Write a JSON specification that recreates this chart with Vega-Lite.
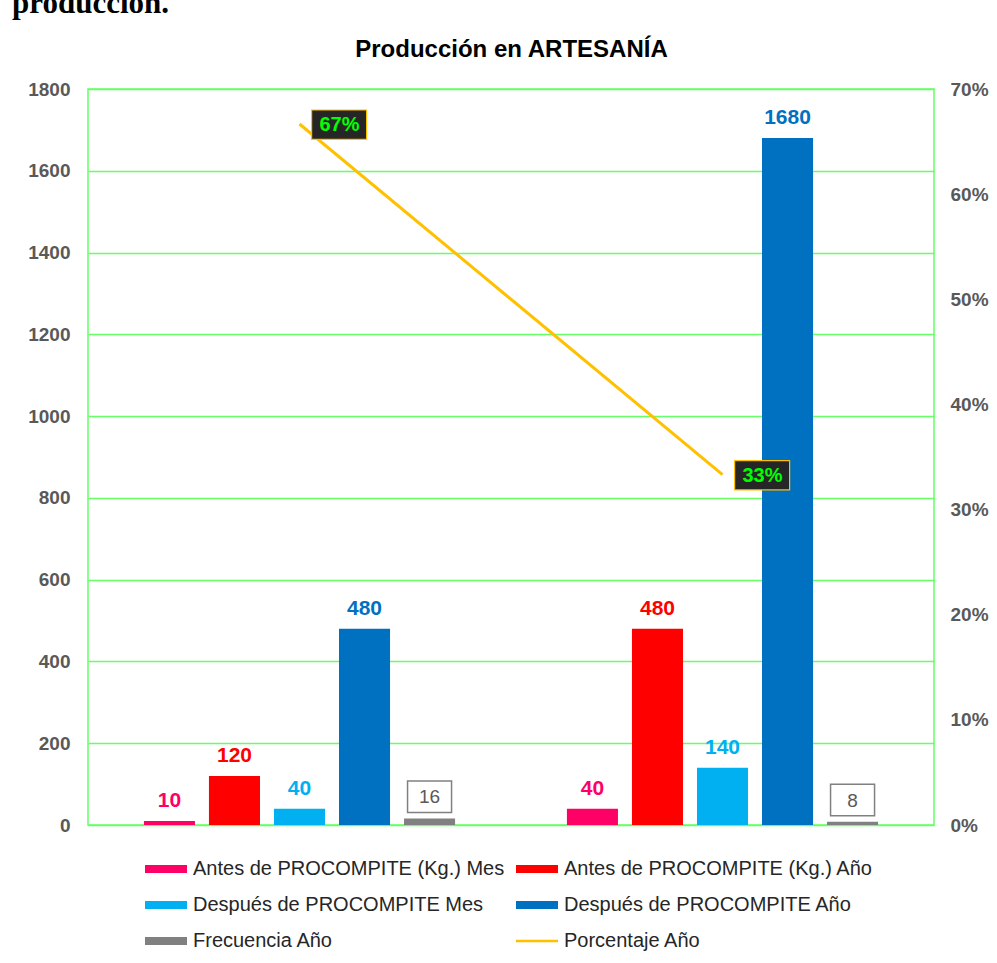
{
  "$schema": "https://vega.github.io/schema/vega-lite/v6.json",
  "width": 846,
  "height": 736,
  "autosize": {"type": "none"},
  "padding": {"left": 88, "top": 89, "right": 63, "bottom": 138},
  "background": "white",
  "config": {
    "view": {"stroke": "#66ff66", "strokeWidth": 1.5},
    "font": "Liberation Sans"
  },
  "title": {
    "text": "producción.",
    "anchor": "start",
    "frame": "group",
    "font": "Liberation Serif",
    "fontSize": 31,
    "fontWeight": "bold",
    "color": "black",
    "dx": -76,
    "baseline": "alphabetic",
    "offset": -7
  },
  "datasets": {
    "barras": [
      {"grupo": "G1", "serie": "Antes de PROCOMPITE (Kg.) Mes", "valor": 10},
      {"grupo": "G1", "serie": "Antes de PROCOMPITE (Kg.) Año", "valor": 120},
      {"grupo": "G1", "serie": "Después de PROCOMPITE Mes", "valor": 40},
      {"grupo": "G1", "serie": "Después de PROCOMPITE Año", "valor": 480},
      {"grupo": "G1", "serie": "Frecuencia Año", "valor": 16},
      {"grupo": "G2", "serie": "Antes de PROCOMPITE (Kg.) Mes", "valor": 40},
      {"grupo": "G2", "serie": "Antes de PROCOMPITE (Kg.) Año", "valor": 480},
      {"grupo": "G2", "serie": "Después de PROCOMPITE Mes", "valor": 140},
      {"grupo": "G2", "serie": "Después de PROCOMPITE Año", "valor": 1680},
      {"grupo": "G2", "serie": "Frecuencia Año", "valor": 8}
    ],
    "linea": [
      {"grupo": "G1", "serie": "Porcentaje Año", "pct": 0.6667},
      {"grupo": "G2", "serie": "Porcentaje Año", "pct": 0.3333}
    ]
  },
  "layer": [
    {
      "data": {"name": "barras"},
      "layer": [
        {
          "mark": {"type": "bar"},
          "encoding": {
            "x": {
              "field": "grupo", "type": "nominal",
              "scale": {"paddingInner": 0, "paddingOuter": 0},
              "axis": {
                "orient": "top", "labels": false, "ticks": false, "domain": false, "grid": false,
                "title": "Producción en ARTESANÍA", "titleFont": "Liberation Sans", "titleFontSize": 24,
                "titleFontWeight": "bold", "titleColor": "#000000", "titleBaseline": "alphabetic", "titlePadding": 33
              }
            },
            "xOffset": {
              "field": "serie", "type": "nominal",
              "scale": {"domain": ["Antes de PROCOMPITE (Kg.) Mes", "Antes de PROCOMPITE (Kg.) Año", "Después de PROCOMPITE Mes", "Después de PROCOMPITE Año", "Frecuencia Año"], "paddingInner": 0.215, "paddingOuter": 0.86}
            },
            "y": {
              "field": "valor", "type": "quantitative",
              "scale": {"domain": [0, 1800], "nice": false},
              "axis": {
                "title": null, "values": [0, 200, 400, 600, 800, 1000, 1200, 1400, 1600, 1800], "format": "d",
                "ticks": false, "domain": false, "grid": true, "gridColor": "#66ff66", "gridWidth": 1.5,
                "labelFont": "Liberation Sans", "labelFontSize": 19, "labelFontWeight": "bold",
                "labelColor": "#595959", "labelPadding": 18
              }
            },
            "color": {
              "field": "serie", "type": "nominal",
              "scale": {
                "domain": ["Antes de PROCOMPITE (Kg.) Mes", "Antes de PROCOMPITE (Kg.) Año", "Después de PROCOMPITE Mes", "Después de PROCOMPITE Año", "Frecuencia Año", "Porcentaje Año"],
                "range": ["#FF0066", "#FF0000", "#00B0F0", "#0070C0", "#808080", "#FFC000"]
              },
              "legend": {
                "orient": "none", "legendX": 68, "legendY": 770, "direction": "horizontal", "columns": 2,
                "title": null, "symbolType": "stroke", "symbolSize": 1764, "symbolStrokeWidth": 8,
                "labelFont": "Liberation Sans", "labelFontSize": 20, "labelColor": "#262626",
                "labelOffset": 17, "columnPadding": -5, "rowPadding": 4, "labelLimit": 400,
                "encode": {
                  "symbols": {
                    "update": {
                      "strokeWidth": {"signal": "datum.value === 'Porcentaje Año' ? 2.5 : 8"},
                      "stroke": {"scale": "color", "field": "value"}
                    }
                  }
                }
              }
            }
          }
        },
        {
          "transform": [{"filter": "datum.serie !== 'Frecuencia Año'"}],
          "mark": {"type": "text", "baseline": "alphabetic", "dy": -14, "font": "Liberation Sans", "fontSize": 21, "fontWeight": "bold"},
          "encoding": {
            "x": {"field": "grupo", "type": "nominal"},
            "xOffset": {"field": "serie", "type": "nominal"},
            "y": {"field": "valor", "type": "quantitative"},
            "text": {"field": "valor", "type": "quantitative"},
            "color": {"field": "serie", "type": "nominal"}
          }
        },
        {
          "transform": [{"filter": "datum.serie === 'Frecuencia Año'"}],
          "mark": {"type": "point", "shape": "M-1,-1.7H1V-0.27H-1Z", "size": 1936, "filled": true, "fill": "white", "stroke": "#808080", "strokeWidth": 1.5, "opacity": 1},
          "encoding": {
            "x": {"field": "grupo", "type": "nominal"},
            "xOffset": {"field": "serie", "type": "nominal"},
            "y": {"field": "valor", "type": "quantitative"}
          }
        },
        {
          "transform": [{"filter": "datum.serie === 'Frecuencia Año'"}],
          "mark": {"type": "text", "baseline": "alphabetic", "dy": -15, "font": "Liberation Sans", "fontSize": 19, "color": "#595959"},
          "encoding": {
            "x": {"field": "grupo", "type": "nominal"},
            "xOffset": {"field": "serie", "type": "nominal"},
            "y": {"field": "valor", "type": "quantitative"},
            "text": {"field": "valor", "type": "quantitative"}
          }
        }
      ]
    },
    {
      "data": {"name": "linea"},
      "layer": [
        {
          "mark": {"type": "line", "strokeWidth": 3},
          "encoding": {
            "x": {"field": "grupo", "type": "nominal"},
            "y": {
              "field": "pct", "type": "quantitative",
              "scale": {"domain": [0, 0.7], "nice": false},
              "axis": {
                "orient": "right", "title": null, "values": [0, 0.1, 0.2, 0.3, 0.4, 0.5, 0.6, 0.7], "format": ".0%",
                "ticks": false, "domain": false, "grid": false,
                "labelFont": "Liberation Sans", "labelFontSize": 19, "labelFontWeight": "bold",
                "labelColor": "#595959", "labelPadding": 16
              }
            },
            "color": {"field": "serie", "type": "nominal"}
          }
        },
        {
          "mark": {"type": "point", "shape": "M0.44,-0.51H2.44V0.56H0.44Z", "size": 3025, "filled": true, "fill": "#262626", "stroke": "#FFC000", "strokeWidth": 1.2, "opacity": 1},
          "encoding": {
            "x": {"field": "grupo", "type": "nominal"},
            "y": {"field": "pct", "type": "quantitative"}
          }
        },
        {
          "mark": {"type": "text", "baseline": "middle", "align": "center", "dx": 40, "dy": 1, "font": "Liberation Sans", "fontSize": 20, "fontWeight": "bold", "color": "#00FF00"},
          "encoding": {
            "x": {"field": "grupo", "type": "nominal"},
            "y": {"field": "pct", "type": "quantitative"},
            "text": {"field": "pct", "type": "quantitative", "format": ".0%"}
          }
        }
      ]
    }
  ],
  "resolve": {"scale": {"y": "independent"}}
}
